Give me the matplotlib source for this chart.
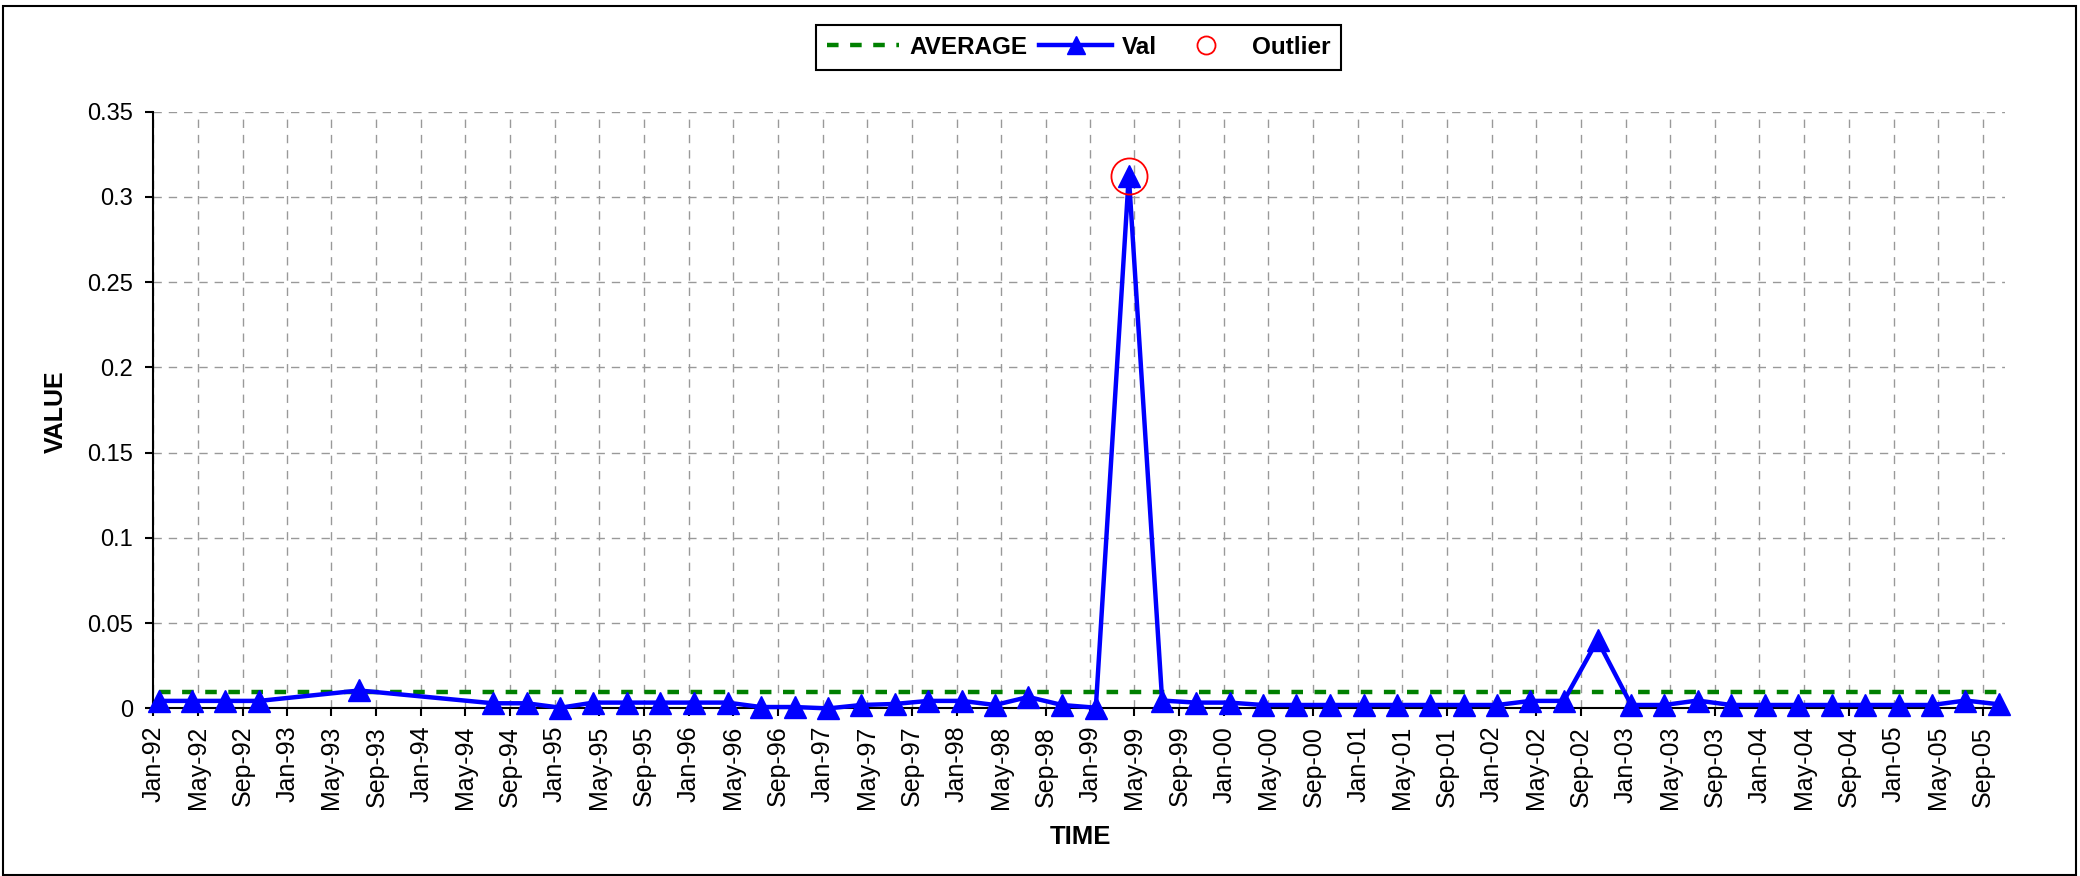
import numpy as np
import pandas as pd
import matplotlib
matplotlib.use('Agg')
import matplotlib.pyplot as plt
import matplotlib.dates as mdates
from matplotlib.lines import Line2D
from matplotlib.patches import Rectangle

plt.rcParams['font.family'] = ['Liberation Sans', 'DejaVu Sans']

# quarterly readings (month of observation)
months = ['1992-01', '1992-04', '1992-07', '1992-10', '1993-07',
          '1994-07', '1994-10', '1995-01', '1995-04', '1995-07', '1995-10',
          '1996-01', '1996-04', '1996-07', '1996-10',
          '1997-01', '1997-04', '1997-07', '1997-10',
          '1998-01', '1998-04', '1998-07', '1998-10',
          '1999-01', '1999-04', '1999-07', '1999-10',
          '2000-01', '2000-04', '2000-07', '2000-10',
          '2001-01', '2001-04', '2001-07', '2001-10',
          '2002-01', '2002-04', '2002-07', '2002-10',
          '2003-01', '2003-04', '2003-07', '2003-10',
          '2004-01', '2004-04', '2004-07', '2004-10',
          '2005-01', '2005-04', '2005-07', '2005-10']
val = [0.0044, 0.0044, 0.0044, 0.0044, 0.0105,
       0.0030, 0.0030, 0.0004, 0.0034, 0.0034, 0.0034,
       0.0034, 0.0034, 0.0008, 0.0008,
       0.0000, 0.0020, 0.0026, 0.0044,
       0.0044, 0.0020, 0.0067, 0.0020,
       0.0004, 0.3125, 0.0046, 0.0034,
       0.0034, 0.0020, 0.0020, 0.0020,
       0.0020, 0.0020, 0.0020, 0.0020,
       0.0020, 0.0044, 0.0044, 0.0400,
       0.0020, 0.0020, 0.0046, 0.0020,
       0.0020, 0.0020, 0.0020, 0.0020,
       0.0020, 0.0020, 0.0046, 0.0024]
average = 0.0098
outlier_month = ['1999-04']
outlier_val = [0.3125]

# excel puts monthly points in the middle of the month
x = pd.to_datetime(months) + pd.Timedelta(days=15)
xo = pd.to_datetime(outlier_month) + pd.Timedelta(days=15)

fig = plt.figure(figsize=(20.8, 8.76), dpi=100)
ax = fig.add_axes([153.3/2080, 1-708.4/876, (2005-153.3)/2080, (708.4-111.7)/876])

ax.plot(x, [average]*len(x), color='#008000', lw=3.2, dashes=(2.6, 2.6), zorder=2)
ax.plot(x, val, color='#0000ff', lw=3.2, marker='^', ms=16, zorder=3, clip_on=False)
ax.plot(xo, outlier_val, ls='none', marker='o', ms=26, mfc='none', mec='#ff0000', mew=1.3,
        zorder=4, clip_on=False)

ax.set_xlim(pd.Timestamp('1992-01-01'), pd.Timestamp('2005-11-01'))
ax.set_ylim(0, 0.35)
ax.set_yticks(np.arange(0, 0.351, 0.05))
ax.yaxis.set_major_formatter(plt.FuncFormatter(lambda v, p: '%g' % round(v, 2)))
ax.xaxis.set_major_locator(mdates.MonthLocator(bymonth=[1, 5, 9]))
ax.xaxis.set_major_formatter(mdates.DateFormatter('%b-%y'))
plt.setp(ax.get_xticklabels(), rotation=90)

ax.grid(True, color='#999999', lw=1, dashes=(6, 5))
ax.set_axisbelow(True)
for s in ['top', 'right']:
    ax.spines[s].set_visible(False)
for s in ['left', 'bottom']:
    ax.spines[s].set_linewidth(1.5)
ax.tick_params(axis='both', width=1.5, length=5.5, direction='out')
ax.tick_params(axis='x', pad=7, labelsize=18)
ax.tick_params(axis='y', pad=9, labelsize=17)

fig.text(56/2080, 1-412/876, 'VALUE', rotation=90, ha='center', va='center',
         fontsize=18, fontweight='bold')
fig.text(1081/2080, 1-837/876, 'TIME', ha='center', va='center',
         fontsize=18.5, fontweight='bold')

handles = [Line2D([], [], color='#008000', lw=3.2, dashes=(2.6, 2.6)),
           Line2D([], [], color='#0000ff', lw=3.2, marker='^', ms=13),
           Line2D([], [], ls='none', marker='o', ms=13, mfc='none', mec='#ff0000', mew=1.3)]
leg = fig.legend(handles, ['AVERAGE', 'Val', 'Outlier'], loc='center',
                 bbox_to_anchor=(1078.5/2080, 1-47.5/876), ncol=3, fancybox=False,
                 framealpha=1, edgecolor='black', prop={'weight': 'bold', 'size': 17.5},
                 handlelength=3.0, handletextpad=0.4, columnspacing=0.5, borderpad=0.45)
leg.get_frame().set_linewidth(1.5)

# chart border
fig.patches.append(Rectangle((3/2080, 1/876), 2073/2080, 869/876, transform=fig.transFigure,
                             fill=False, lw=1.5, ec='black'))

fig.savefig('out.png', dpi=100)
